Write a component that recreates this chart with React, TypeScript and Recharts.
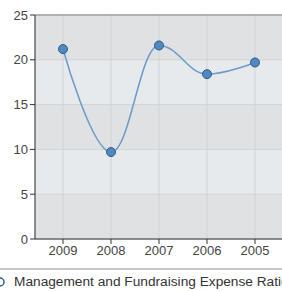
import { LineChart, Line, XAxis, YAxis, CartesianGrid, ReferenceLine } from "recharts";

const years = ["2009", "2008", "2007", "2006", "2005"];
const ratios = [21.2, 9.7, 21.6, 18.4, 19.7];
const yTicks = [0, 5, 10, 15, 20, 25];
const seriesName = "Management and Fundraising Expense Ratio";

const data = years.map((year, i) => ({ year, ratio: ratios[i] }));

const darkBand = "#e0e1e3";
const lightBand = "#e7eaed";

// spline like the original chart lib: smoothing 1.5, control points clamped to neighbours
const splineCurve = (context: any) => {
  let pts: number[][] = [];
  return {
    areaStart() {},
    areaEnd() {},
    lineStart() {
      pts = [];
    },
    point(x: number, y: number) {
      pts.push([+x, +y]);
    },
    lineEnd() {
      if (!pts.length) return;
      const smoothing = 1.5;
      const denom = smoothing + 1;
      const ctrl = pts.map((p, i) => {
        const [x, y] = p;
        if (i === 0 || i === pts.length - 1) return { lx: x, ly: y, rx: x, ry: y };
        const [px, py] = pts[i - 1];
        const [nx, ny] = pts[i + 1];
        let lx = (smoothing * x + px) / denom;
        let ly = (smoothing * y + py) / denom;
        let rx = (smoothing * x + nx) / denom;
        let ry = (smoothing * y + ny) / denom;
        if (rx !== lx) {
          const corr = ((ry - ly) * (rx - x)) / (rx - lx) + y - ry;
          ly += corr;
          ry += corr;
        }
        if (ly > py && ly > y) {
          ly = Math.max(py, y);
          ry = 2 * y - ly;
        } else if (ly < py && ly < y) {
          ly = Math.min(py, y);
          ry = 2 * y - ly;
        }
        if (ry > ny && ry > y) {
          ry = Math.max(ny, y);
          ly = 2 * y - ry;
        } else if (ry < ny && ry < y) {
          ry = Math.min(ny, y);
          ly = 2 * y - ry;
        }
        return { lx, ly, rx, ry };
      });
      context.moveTo(pts[0][0], pts[0][1]);
      for (let i = 1; i < pts.length; i++) {
        const a = ctrl[i - 1];
        const b = ctrl[i];
        context.bezierCurveTo(a.rx, a.ry, b.lx, b.ly, pts[i][0], pts[i][1]);
      }
    },
  };
};

export default function App() {
  return (
    <div
      style={{
        position: "absolute",
        left: 0,
        top: 0,
        width: 282,
        height: 291,
        overflow: "hidden",
        background: "#fff",
        fontFamily: "'Liberation Sans', Arial, sans-serif",
      }}
    >
      <LineChart
        width={292}
        height={264}
        data={data}
        margin={{ top: 15, right: 0, left: 0, bottom: 0 }}
      >
        <CartesianGrid
          stroke="#d2d3d5"
          strokeWidth={1}
          horizontalFill={[darkBand, lightBand]}
          fillOpacity={1}
        />
        <ReferenceLine y={25} stroke="#a0a0a0" strokeWidth={1.5} />
        <XAxis
          dataKey="year"
          padding={{ left: 28, right: 37 }}
          stroke="#333"
          tickLine={{ stroke: "#333" }}
          tickSize={5}
          tick={{ fill: "#444", fontSize: 13 }}
          height={25}
        />
        <YAxis
          domain={[0, 25]}
          ticks={yTicks}
          width={35}
          stroke="#333"
          tickSize={5}
          tick={{ fill: "#444", fontSize: 13 }}
        />
        <Line
          type={splineCurve as any}
          dataKey="ratio"
          name={seriesName}
          stroke="#6a9bcb"
          strokeWidth={1.5}
          dot={{ r: 4.5, fill: "#5088c0", stroke: "#2e5c8a", strokeWidth: 1, fillOpacity: 1 }}
          isAnimationActive={false}
        />
      </LineChart>
      <div
        style={{
          position: "absolute",
          left: 0,
          top: 268,
          width: 282,
          borderTop: "2px solid #c8c8c8",
        }}
      />
      <div
        style={{
          position: "absolute",
          left: -5,
          top: 274,
          whiteSpace: "nowrap",
          fontSize: 13.7,
          color: "#333",
          display: "flex",
          alignItems: "center",
        }}
      >
        <svg width={10} height={10} style={{ marginRight: 9 }}>
          <circle cx={5} cy={5} r={4} fill="none" stroke="#2e5c8a" strokeWidth={1.5} />
        </svg>
        <span>{seriesName}</span>
      </div>
    </div>
  );
}
